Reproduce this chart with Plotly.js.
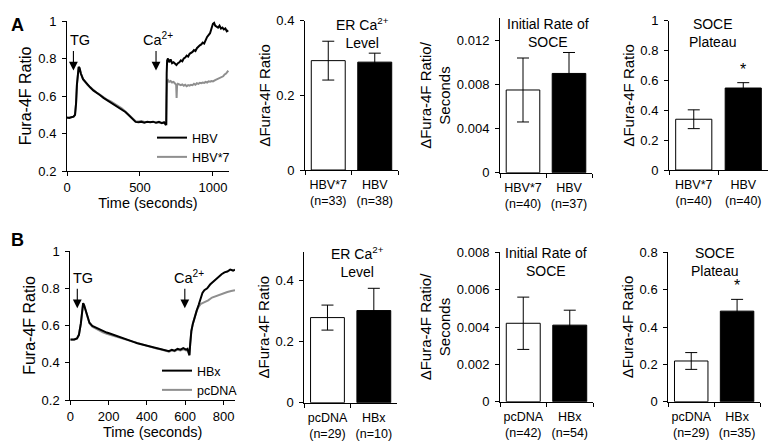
<!DOCTYPE html>
<html>
<head>
<meta charset="utf-8">
<script src="https://cdn.plot.ly/plotly-3.0.1.min.js"></script>
<style>html,body{margin:0;padding:0;background:#fff;}#chart{width:771px;height:446px;}</style>
</head>
<body>
<div id="chart"></div>
<script>
// ---------- Panel A: time course ----------
const hbvTime = [0,15,30,45,55,62,68,74,80,86,95,110,125,140,160,180,200,225,250,275,300,325,350,375,400,420,440,455,470,490,510,530,550,570,590,610,630,650,665,675,680,683,686,692,700,710,720,730,740,750,760,770,780,790,800,810,820,830,840,850,860,870,880,890,900,910,920,930,940,950,960,970,980,990,1000,1008,1015,1025,1035,1045,1055,1065,1075,1085,1095,1105];
const hbvRatio = [0.485,0.483,0.487,0.49,0.50,0.56,0.66,0.73,0.755,0.75,0.72,0.69,0.675,0.66,0.645,0.63,0.62,0.605,0.59,0.578,0.565,0.553,0.542,0.53,0.515,0.50,0.485,0.47,0.462,0.46,0.463,0.458,0.462,0.46,0.463,0.457,0.462,0.455,0.46,0.448,0.45,0.72,0.79,0.80,0.78,0.795,0.775,0.78,0.77,0.765,0.775,0.78,0.79,0.785,0.80,0.805,0.815,0.81,0.825,0.83,0.835,0.845,0.84,0.855,0.865,0.87,0.875,0.885,0.88,0.90,0.915,0.925,0.935,0.96,0.985,0.99,0.975,0.97,0.965,0.975,0.96,0.965,0.955,0.96,0.945,0.95];
const hbv7Time = [0,15,30,45,55,62,68,74,80,86,95,110,125,140,160,180,200,225,250,275,300,325,350,375,400,420,440,455,470,490,510,530,550,570,590,610,630,650,665,675,680,683,686,692,700,710,720,730,740,748,751,754,760,770,780,790,800,810,820,830,840,850,860,870,880,890,900,910,920,930,940,950,960,970,980,990,1000,1015,1030,1045,1060,1070,1080,1090,1100,1105];
const hbv7Ratio = [0.483,0.485,0.486,0.49,0.50,0.56,0.66,0.73,0.752,0.748,0.72,0.69,0.673,0.66,0.646,0.632,0.62,0.607,0.593,0.58,0.571,0.56,0.548,0.534,0.518,0.503,0.488,0.474,0.466,0.464,0.466,0.462,0.463,0.461,0.462,0.459,0.46,0.457,0.458,0.452,0.45,0.60,0.68,0.685,0.675,0.68,0.672,0.675,0.668,0.66,0.59,0.655,0.665,0.66,0.658,0.662,0.655,0.66,0.652,0.658,0.655,0.66,0.658,0.665,0.66,0.668,0.665,0.67,0.668,0.672,0.67,0.675,0.672,0.678,0.676,0.68,0.678,0.685,0.69,0.695,0.70,0.705,0.715,0.72,0.73,0.735];

// ---------- Panel B: time course ----------
const hbxTime = [0,20,35,45,55,62,67,72,80,90,100,115,130,150,170,190,210,230,250,270,290,310,330,350,370,390,410,430,450,470,490,500,515,530,545,560,575,590,605,612,618,622,626,632,640,650,660,670,680,690,700,715,730,745,760,775,790,805,820,835,850,860];
const hbxRatio = [0.525,0.525,0.53,0.55,0.61,0.69,0.72,0.71,0.68,0.64,0.615,0.598,0.59,0.58,0.57,0.562,0.556,0.548,0.54,0.533,0.527,0.52,0.512,0.505,0.50,0.495,0.49,0.483,0.478,0.475,0.47,0.465,0.462,0.47,0.465,0.475,0.47,0.478,0.47,0.475,0.455,0.44,0.50,0.57,0.61,0.65,0.68,0.71,0.74,0.775,0.79,0.80,0.82,0.835,0.85,0.86,0.875,0.885,0.89,0.90,0.895,0.90];
const pcdnaTime = [0,20,35,45,55,62,67,72,80,90,100,115,130,150,170,190,210,230,250,270,290,310,330,350,370,390,410,430,450,470,490,500,515,530,545,560,575,590,605,612,618,622,626,632,640,650,660,670,680,690,700,720,740,760,780,800,820,840,860];
const pcdnaRatio = [0.523,0.524,0.53,0.55,0.61,0.69,0.718,0.708,0.678,0.638,0.612,0.594,0.585,0.574,0.563,0.555,0.549,0.541,0.534,0.528,0.522,0.516,0.509,0.503,0.498,0.493,0.488,0.481,0.476,0.472,0.468,0.463,0.46,0.466,0.462,0.47,0.466,0.472,0.466,0.468,0.452,0.44,0.50,0.57,0.61,0.65,0.68,0.70,0.715,0.72,0.725,0.735,0.75,0.758,0.765,0.775,0.78,0.785,0.79];

// ---------- Bar panels ----------
const a2Cats = ['HBV*7<br>(n=33)', 'HBV<br>(n=38)'];
const a2Vals = [0.293, 0.289];
const a2Err  = [0.052, 0.024];
const a3Cats = ['HBV*7<br>(n=40)', 'HBV<br>(n=37)'];
const a3Vals = [0.0075, 0.0090];
const a3Err  = [0.0029, 0.0019];
const a4Cats = ['HBV*7<br>(n=40)', 'HBV<br>(n=40)'];
const a4Vals = [0.34, 0.549];
const a4Err  = [0.063, 0.036];
const b2Cats = ['pcDNA<br>(n=29)', 'HBx<br>(n=10)'];
const b2Vals = [0.279, 0.302];
const b2Err  = [0.041, 0.073];
const b3Cats = ['pcDNA<br>(n=42)', 'HBx<br>(n=54)'];
const b3Vals = [0.0042, 0.0041];
const b3Err  = [0.0014, 0.0008];
const b4Cats = ['pcDNA<br>(n=29)', 'HBx<br>(n=35)'];
const b4Vals = [0.218, 0.485];
const b4Err  = [0.045, 0.063];
const barColors = ['#ffffff', '#000000'];

const FONT = 'Liberation Sans, Arial, Helvetica, sans-serif';
const W = 771, H = 446;
function xd(a, b) { return [a / W, b / W]; }
function yd(top, bottom) { return [1 - bottom / H, 1 - top / H]; }

function barTrace(cats, vals, err, xa, ya) {
  return {
    type: 'bar', x: cats, y: vals, xaxis: xa, yaxis: ya, showlegend: false,
    marker: { color: barColors, line: { color: '#000', width: 1 } },
    error_y: { type: 'data', array: err, visible: true, color: '#000', thickness: 1, width: 6 },
    hoverinfo: 'skip'
  };
}
function lineTrace(x, y, name, color, xa, ya, legend, rank) {
  return { type: 'scatter', mode: 'lines', x: x, y: y, name: name, xaxis: xa, yaxis: ya,
    legend: legend, legendrank: rank, line: { color: color, width: 2 }, hoverinfo: 'skip' };
}

const data = [
  lineTrace(hbv7Time, hbv7Ratio, 'HBV*7', '#8f8f8f', 'x', 'y', 'legend', 2),
  lineTrace(hbvTime, hbvRatio, 'HBV', '#000000', 'x', 'y', 'legend', 1),
  barTrace(a2Cats, a2Vals, a2Err, 'x2', 'y2'),
  barTrace(a3Cats, a3Vals, a3Err, 'x3', 'y3'),
  barTrace(a4Cats, a4Vals, a4Err, 'x4', 'y4'),
  lineTrace(pcdnaTime, pcdnaRatio, 'pcDNA', '#8f8f8f', 'x5', 'y5', 'legend2', 2),
  lineTrace(hbxTime, hbxRatio, 'HBx', '#000000', 'x5', 'y5', 'legend2', 1),
  barTrace(b2Cats, b2Vals, b2Err, 'x6', 'y6'),
  barTrace(b3Cats, b3Vals, b3Err, 'x7', 'y7'),
  barTrace(b4Cats, b4Vals, b4Err, 'x8', 'y8')
];

const tickFont = { family: FONT, size: 13, color: '#000' };
function yax(domain, anchor, range, extra, title, tsize) {
  return Object.assign({
    domain: domain, anchor: anchor, range: range, showgrid: false, zeroline: false,
    showline: true, linecolor: '#000', linewidth: 1, ticks: 'outside', ticklen: 4,
    tickcolor: '#000', tickwidth: 1, tickfont: tickFont, ticklabelstandoff: 3,
    title: { text: title, font: { family: FONT, size: tsize || 15, color: '#000' }, standoff: 2 },
    automargin: false, fixedrange: true
  }, extra || {});
}
function xcat(domain, anchor) {
  return {
    domain: domain, anchor: anchor, type: 'category', showgrid: false, zeroline: false,
    showline: true, linecolor: '#000', linewidth: 1, ticks: 'outside', ticklen: 4,
    tickcolor: '#000', tickson: 'boundaries', tickangle: 0, ticklabelstandoff: 3,
    tickfont: { family: FONT, size: 12.5, color: '#000' },
    automargin: false, fixedrange: true
  };
}
function xlin(domain, anchor, range, dtick) {
  return {
    domain: domain, anchor: anchor, range: range, dtick: dtick, tick0: 0, showgrid: false, zeroline: false,
    showline: true, linecolor: '#000', linewidth: 1, ticks: 'outside', ticklen: 4,
    tickcolor: '#000', tickfont: tickFont, automargin: false, fixedrange: true, tickangle: 0,
    title: { text: 'Time (seconds)', font: { family: FONT, size: 14.5, color: '#000' }, standoff: 4 }
  };
}

function note(text, x, y, xref, yref, size, extra) {
  return Object.assign({ text: text, x: x, y: y, xref: xref, yref: yref, showarrow: false,
    font: { family: FONT, size: size, color: '#000' } }, extra || {});
}
function arrow(x, y, xref, yref) {
  return { text: ' ', x: x, y: y, xref: xref, yref: yref, showarrow: true, ax: 0, ay: -24,
    arrowhead: 2, arrowsize: 1.6, arrowwidth: 1.1, arrowcolor: '#000', standoff: 0, startstandoff: 0,
    font: { family: FONT, size: 6, color: '#000' } };
}
function ptitle(text, cx, cy) {
  return note(text, cx / W, 1 - cy / H, 'paper', 'paper', 14, { xanchor: 'center', yanchor: 'middle' });
}

const layout = {
  width: W, height: H, margin: { l: 0, r: 0, t: 0, b: 0 },
  paper_bgcolor: '#fff', plot_bgcolor: 'rgba(0,0,0,0)',
  font: { family: FONT, color: '#000' },
  bargap: 0.27,
  xaxis: xlin(xd(67, 229), 'y', [0, 1110], 500),
  yaxis: yax(yd(21, 171), 'x', [0.2, 1], { dtick: 0.2, tick0: 0.2 }, 'Fura-4F Ratio', 16),
  xaxis2: xcat(xd(305, 398), 'y2'),
  yaxis2: yax(yd(20.7, 170), 'x2', [0, 0.4], { dtick: 0.2 }, 'ΔFura-4F Ratio'),
  xaxis3: xcat(xd(500, 592), 'y3'),
  yaxis3: yax(yd(18.3, 172.7), 'x3', [0, 0.014], { tickvals: [0, 0.004, 0.008, 0.012] }, 'ΔFura-4F Ratio/<br>Seconds'),
  xaxis4: xcat(xd(669, 768), 'y4'),
  yaxis4: yax(yd(20.7, 170), 'x4', [0, 1], { dtick: 0.2 }, 'ΔFura-4F Ratio'),
  xaxis5: xlin(xd(70.3, 235), 'y5', [0, 860], 200),
  yaxis5: yax(yd(251, 400), 'x5', [0.2, 1], { dtick: 0.2, tick0: 0.2 }, 'Fura-4F Ratio', 16),
  xaxis6: xcat(xd(304.3, 397), 'y6'),
  yaxis6: yax(yd(251.7, 402.7), 'x6', [0, 0.495], { tickvals: [0, 0.2, 0.4] }, 'ΔFura-4F Ratio'),
  xaxis7: xcat(xd(500, 593), 'y7'),
  yaxis7: yax(yd(252.3, 401.7), 'x7', [0, 0.008], { dtick: 0.002 }, 'ΔFura-4F Ratio/<br>Seconds'),
  xaxis8: xcat(xd(668.3, 760), 'y8'),
  yaxis8: yax(yd(252.3, 401.7), 'x8', [0, 0.8], { dtick: 0.2 }, 'ΔFura-4F Ratio'),
  showlegend: true,
  legend: { x: 152 / W, y: 1 - 123 / H, xanchor: 'left', yanchor: 'top', bgcolor: 'rgba(0,0,0,0)',
    font: { family: FONT, size: 12.5, color: '#000' }, itemwidth: 30, tracegroupgap: 0 },
  legend2: { x: 157 / W, y: 1 - 356 / H, xanchor: 'left', yanchor: 'top', bgcolor: 'rgba(0,0,0,0)',
    font: { family: FONT, size: 12.5, color: '#000' }, itemwidth: 30, tracegroupgap: 0 },
  annotations: [
    note('<b>A</b>', 9 / W, 1 - 13 / H, 'paper', 'paper', 18),
    note('<b>B</b>', 9 / W, 1 - 240 / H, 'paper', 'paper', 18),
    arrow(44, 0.736, 'x', 'y'),
    note('TG', 86, 0.899, 'x', 'y', 14.5),
    arrow(610, 0.736, 'x', 'y'),
    note('Ca<sup>2+</sup>', 623, 0.905, 'x', 'y', 14.5),
    arrow(36.5, 0.692, 'x5', 'y5'),
    note('TG', 66, 0.855, 'x5', 'y5', 14.5),
    arrow(598, 0.692, 'x5', 'y5'),
    note('Ca<sup>2+</sup>', 618, 0.86, 'x5', 'y5', 14.5),
    ptitle('ER Ca<sup>2+</sup><br>Level', 362, 33.5),
    ptitle('Initial Rate of<br>SOCE', 548, 33.5),
    ptitle('SOCE<br>Plateau', 712, 33.5),
    ptitle('ER Ca<sup>2+</sup><br>Level', 357, 262),
    ptitle('Initial Rate of<br>SOCE', 546, 262),
    ptitle('SOCE<br>Plateau', 714, 262),
    note('*', a4Cats[1], a4Vals[1] + a4Err[1] + 0.02, 'x4', 'y4', 16, { yanchor: 'bottom' }),
    note('*', b4Cats[1], b4Vals[1] + b4Err[1] + 0.02, 'x8', 'y8', 16, { yanchor: 'bottom' })
  ]
};

Plotly.newPlot('chart', data, layout, { staticPlot: true, displayModeBar: false });
</script>
</body>
</html>
